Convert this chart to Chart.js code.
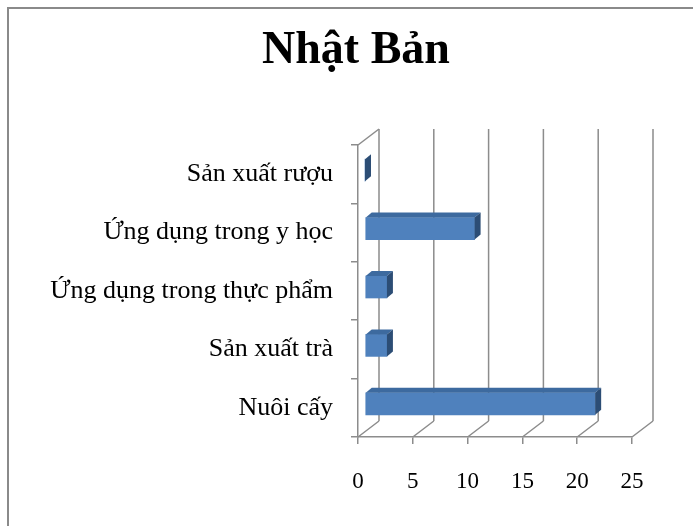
<!DOCTYPE html>
<html lang="vi">
<head>
<meta charset="utf-8"/>
<title>Nhật Bản</title>
<script src="https://cdn.jsdelivr.net/npm/chart.js"></script>
<style>
  html, body { margin: 0; padding: 0; background: #fff; overflow: hidden; }
  .khung {
    position: absolute; left: 7px; top: 7px; width: 720px; height: 560px;
    border-left: 2px solid #8a8a8a; border-top: 2px solid #8a8a8a;
  }
  .hop { position: absolute; left: 0; top: 0; width: 693px; height: 526px; }
  .tieude {
    position: absolute; left: 0; top: 25px; width: 712px; text-align: center;
    font: bold 46px 'Liberation Serif', 'Times New Roman', serif; line-height: 46px;
    color: #000; margin: 0;
  }
</style>
</head>
<body>
<div class="khung"></div>
<div class="hop"><canvas id="bieuDo" width="693" height="526"></canvas></div>
<h1 class="tieude">Nhật Bản</h1>
<script>
const danhMuc = ['Sản xuất rượu', 'Ứng dụng trong y học', 'Ứng dụng trong thực phẩm', 'Sản xuất trà', 'Nuôi cấy'];
const giaTri = [0, 10, 2, 2, 21];
const nhanTruc = [0, 5, 10, 15, 20, 25];

const DX = 21, DY = -16;      // do sau cua tuong
const BX = 7, BY = -4;        // vi tri mat truoc cua thanh
const SX = 6, SY = -5;        // do day cua thanh
const mauLuoi = '#8c8c8c';
const phongChu = "'Liberation Serif', 'Times New Roman', serif";

const hieuUng3D = {
  id: 'hieuUng3D',
  beforeDatasetsDraw(chart) {
    const ctx = chart.ctx, a = chart.chartArea, x = chart.scales.x;
    ctx.save();
    ctx.strokeStyle = mauLuoi;
    ctx.lineWidth = 1.5;
    nhanTruc.forEach(v => {
      const px = x.getPixelForValue(v);
      ctx.beginPath();
      ctx.moveTo(px + DX, a.top + DY);
      ctx.lineTo(px + DX, a.bottom + DY);
      ctx.moveTo(px, a.bottom);
      ctx.lineTo(px + DX, a.bottom + DY);
      ctx.stroke();
    });
    ctx.beginPath();
    ctx.moveTo(a.left, a.top);
    ctx.lineTo(a.left + DX, a.top + DY);
    ctx.stroke();
    ctx.restore();
    ctx.save();
    ctx.translate(BX, BY);
  },
  afterDatasetsDraw(chart) {
    const ctx = chart.ctx;
    chart.getDatasetMeta(0).data.forEach(bar => {
      const top = bar.y - bar.height / 2, bot = bar.y + bar.height / 2;
      ctx.fillStyle = '#3d6a9f';
      ctx.beginPath();
      ctx.moveTo(bar.base, top);
      ctx.lineTo(bar.x, top);
      ctx.lineTo(bar.x + SX, top + SY);
      ctx.lineTo(bar.base + SX, top + SY);
      ctx.closePath();
      ctx.fill();
      ctx.fillStyle = '#2c4d75';
      ctx.beginPath();
      ctx.moveTo(bar.x, top);
      ctx.lineTo(bar.x + SX, top + SY);
      ctx.lineTo(bar.x + SX, bot + SY);
      ctx.lineTo(bar.x, bot);
      ctx.closePath();
      ctx.fill();
    });
    ctx.restore();
  }
};

new Chart(document.getElementById('bieuDo'), {
  type: 'bar',
  data: {
    labels: danhMuc,
    datasets: [{
      data: giaTri,
      backgroundColor: '#4f81bd',
      barThickness: 22,
      clip: false
    }]
  },
  options: {
    indexAxis: 'y',
    responsive: false,
    animation: false,
    devicePixelRatio: 1,
    layout: { padding: { left: 0, right: 61, top: 145, bottom: 0 } },
    plugins: {
      legend: { display: false },
      tooltip: { enabled: false },
      title: { display: false }
    },
    scales: {
      x: {
        min: 0, max: 25,
        ticks: {
          stepSize: 5, color: '#000', padding: 24,
          font: { family: phongChu, size: 23 }
        },
        grid: { drawOnChartArea: false, color: mauLuoi, tickLength: 7, lineWidth: 1.5 },
        border: { color: mauLuoi, width: 1.5 },
        afterFit(s) { s.height = 89; }
      },
      y: {
        ticks: {
          color: '#000', padding: 18,
          font: { family: phongChu, size: 26 }
        },
        grid: { drawOnChartArea: false, color: mauLuoi, tickLength: 7, lineWidth: 1.5 },
        border: { color: mauLuoi, width: 1.5 },
        afterFit(s) { s.width = 358; }
      }
    }
  },
  plugins: [hieuUng3D]
});
</script>
</body>
</html>
